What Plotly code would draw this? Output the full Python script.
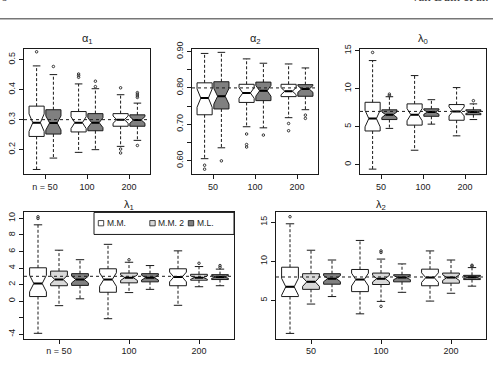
import plotly.graph_objects as go

W, H = 493, 366

# ---------------- data ----------------
group_pos = [1, 2, 3]
top_ticks_left = ["n = 50", "100", "200"]
top_ticks = ["50", "100", "200"]
legend_names = ["M.M.", "M.M. 2", "M.L."]
true_values = [0.3, 0.8, 7, 3, 8]

# each tuple: (lower whisker, q1, median, q3, upper whisker) per sample size 50/100/200
alpha1_MM = [(0.134, 0.244, 0.290, 0.345, 0.479), (0.191, 0.259, 0.290, 0.327, 0.419), (0.211, 0.278, 0.300, 0.320, 0.383)]
alpha1_MM_out = [[0.526], [0.452, 0.447, 0.441], [0.406, 0.202, 0.189]]
alpha1_ML = [(0.172, 0.252, 0.289, 0.333, 0.450), (0.200, 0.263, 0.290, 0.320, 0.403), (0.231, 0.278, 0.299, 0.316, 0.355)]
alpha1_ML_out = [[0.477], [0.428, 0.410], [0.390, 0.385, 0.379, 0.374, 0.214]]

alpha2_MM = [(0.605, 0.726, 0.772, 0.814, 0.895), (0.693, 0.760, 0.786, 0.810, 0.880), (0.718, 0.776, 0.791, 0.810, 0.866)]
alpha2_MM_out = [[0.587, 0.576], [0.673, 0.644, 0.637], [0.702, 0.682]]
alpha2_ML = [(0.635, 0.742, 0.777, 0.817, 0.898), (0.690, 0.765, 0.792, 0.816, 0.868), (0.740, 0.777, 0.797, 0.809, 0.855)]
alpha2_ML_out = [[0.599], [0.670], [0.725, 0.716]]

lambda0_MM = [(-0.58, 4.43, 6.06, 8.20, 13.68), (1.90, 5.20, 6.57, 7.99, 11.71), (3.79, 5.84, 7.00, 7.90, 10.13)]
lambda0_MM_out = [[14.75], [], []]
lambda0_ML = [(4.77, 5.93, 6.57, 7.21, 8.93), (5.33, 6.36, 6.91, 7.34, 8.54), (5.93, 6.57, 6.91, 7.21, 7.99)]
lambda0_ML_out = [[9.27, 9.06], [], [8.41]]

lambda1_MM = [(-3.90, 0.55, 2.13, 4.03, 9.23), (-2.13, 1.07, 2.61, 3.91, 6.87), (-0.51, 1.86, 2.92, 3.91, 6.08)]
lambda1_MM_out = [[10.2, 10.0], [], []]
lambda1_MM2 = [(-0.55, 1.86, 2.61, 3.63, 6.16), (1.03, 2.21, 2.84, 3.39, 4.70), (1.74, 2.53, 2.84, 3.24, 4.18)]
lambda1_MM2_out = [[], [5.0], [4.58]]
lambda1_ML = [(0.28, 1.90, 2.61, 3.32, 5.01), (1.42, 2.33, 2.84, 3.32, 4.30), (1.86, 2.61, 2.92, 3.20, 3.87)]
lambda1_ML_out = [[], [], [4.3, 4.1]]

lambda2_MM = [(0.79, 5.50, 6.75, 9.25, 14.80), (3.29, 6.13, 7.67, 8.96, 12.67), (4.92, 6.88, 7.92, 9.00, 11.33)]
lambda2_MM_out = [[15.7], [], []]
lambda2_MM2 = [(4.54, 6.42, 7.38, 8.42, 11.42), (4.88, 7.04, 7.79, 8.50, 10.29), (5.92, 7.21, 7.92, 8.50, 10.17)]
lambda2_MM2_out = [[], [11.33, 11.13, 4.25], []]
lambda2_ML = [(5.50, 7.08, 7.79, 8.42, 10.17), (6.04, 7.38, 7.92, 8.29, 9.67), (6.83, 7.67, 7.96, 8.21, 9.20)]
lambda2_ML_out = [[], [], [9.5, 9.4]]

NOTCH_N = 30  # notch half-width = 1.58*IQR/sqrt(N)

# ---------------- styling ----------------
FILL = {"M.M.": "#ffffff", "M.M. 2": "#d9d9d9", "M.L.": "#808080"}
INK = "#1a1a1a"
FONT = "Liberation Sans, Arial, sans-serif"


def px_x(p):
    return p / W


def px_y(p):
    return 1 - p / H


panels = [
    dict(title="α<sub>1</sub>", frame=(24, 150, 42, 170), yr=[0.118, 0.535],
         yt=[0.2, 0.3, 0.4, 0.5], ytt=["0.2", "0.3", "0.4", "0.5"], ym=[], xtt=top_ticks_left,
         series=[("M.M.", alpha1_MM, alpha1_MM_out), ("M.L.", alpha1_ML, alpha1_ML_out)],
         offs=[-0.2, 0.2], bw=0.36, ty=32),
    dict(title="α<sub>2</sub>", frame=(192, 318, 42, 170), yr=[0.562, 0.907],
         yt=[0.60, 0.70, 0.80, 0.90], ytt=["0.60", "0.70", "0.80", "0.90"], ym=[0.65, 0.75, 0.85],
         xtt=top_ticks,
         series=[("M.M.", alpha2_MM, alpha2_MM_out), ("M.L.", alpha2_ML, alpha2_ML_out)],
         offs=[-0.2, 0.2], bw=0.36, ty=32),
    dict(title="λ<sub>0</sub>", frame=(360, 486, 42, 170), yr=[-1.26, 15.19],
         yt=[0, 5, 10, 15], ytt=["0", "5", "10", "15"], ym=[], xtt=top_ticks,
         series=[("M.M.", lambda0_MM, lambda0_MM_out), ("M.L.", lambda0_ML, lambda0_ML_out)],
         offs=[-0.2, 0.2], bw=0.36, ty=32),
    dict(title="λ<sub>1</sub>", frame=(24, 234, 209, 338), yr=[-4.54, 10.73],
         yt=[-4, 0, 2, 4, 6, 8, 10], ytt=["-4", "0", "2", "4", "6", "8", "10"], ym=[-2],
         xtt=top_ticks_left,
         series=[("M.M.", lambda1_MM, lambda1_MM_out), ("M.M. 2", lambda1_MM2, lambda1_MM2_out),
                 ("M.L.", lambda1_ML, lambda1_ML_out)],
         offs=[-0.3, 0.0, 0.3], bw=0.24, ty=201),
    dict(title="λ<sub>2</sub>", frame=(276, 486, 209, 338), yr=[0.125, 16.25],
         yt=[5, 10, 15], ytt=["5", "10", "15"], ym=[], xtt=top_ticks,
         series=[("M.M.", lambda2_MM, lambda2_MM_out), ("M.M. 2", lambda2_MM2, lambda2_MM2_out),
                 ("M.L.", lambda2_ML, lambda2_ML_out)],
         offs=[-0.3, 0.0, 0.3], bw=0.24, ty=201),
]

fig = go.Figure()
layout = dict(
    width=W, height=H, margin=dict(l=0, r=0, t=0, b=0),
    paper_bgcolor="white", plot_bgcolor="white", showlegend=False,
    font=dict(family=FONT, size=9, color=INK),
)
shapes = []
annotations = []

for i, pn in enumerate(panels, start=1):
    xa = "x" if i == 1 else f"x{i}"
    ya = "y" if i == 1 else f"y{i}"
    x0, x1, y0, y1 = pn["frame"]
    layout[f"xaxis{'' if i == 1 else i}"] = dict(
        domain=[px_x(x0), px_x(x1)], anchor=ya, range=[0.5, 3.5],
        tickmode="array", tickvals=group_pos, ticktext=pn["xtt"],
        ticks="outside", ticklen=4, tickwidth=1, tickcolor=INK,
        showline=True, mirror=True, linecolor=INK, linewidth=1,
        showgrid=False, zeroline=False, fixedrange=True,
        tickfont=dict(size=9, color=INK, family=FONT),
    )
    yax = dict(
        domain=[px_y(y1), px_y(y0)], anchor=xa, range=pn["yr"],
        tickmode="array", tickvals=pn["yt"], ticktext=pn["ytt"], tickangle=-90,
        ticks="outside", ticklen=4, tickwidth=1, tickcolor=INK,
        showline=True, mirror=True, linecolor=INK, linewidth=1,
        showgrid=False, zeroline=False, fixedrange=True,
        tickfont=dict(size=9, color=INK, family=FONT),
    )
    if pn["ym"]:
        yax["minor"] = dict(tickmode="array", tickvals=pn["ym"], ticks="outside", ticklen=4,
                            tickwidth=1, tickcolor=INK, showgrid=False)
    layout[f"yaxis{'' if i == 1 else i}"] = yax
    bw = pn["bw"]
    cap = bw / 4
    for (name, stats, outs), off in zip(pn["series"], pn["offs"]):
        pos = [g + off for g in group_pos]
        low = [s[0] for s in stats]
        q1 = [s[1] for s in stats]
        med = [s[2] for s in stats]
        q3 = [s[3] for s in stats]
        up = [s[4] for s in stats]
        notch = [1.58 * (b - a) / NOTCH_N ** 0.5 for a, b in zip(q1, q3)]
        fig.add_trace(go.Box(
            x=pos, q1=q1, median=med, q3=q3, lowerfence=q1, upperfence=q3,
            notched=True, notchspan=notch, notchwidth=0.25, width=bw,
            whiskerwidth=0, boxpoints=False, fillcolor=FILL[name],
            line=dict(color=INK, width=1), xaxis=xa, yaxis=ya,
            hoverinfo="skip", showlegend=False,
        ))
        wx, wy = [], []
        cx, cy = [], []
        mx, my = [], []
        for p, l, a, m, b, u in zip(pos, low, q1, med, q3, up):
            wx += [p, p, None, p, p, None]
            wy += [b, u, None, a, l, None]
            cx += [p - cap, p + cap, None, p - cap, p + cap, None]
            cy += [u, u, None, l, l, None]
            mx += [p - bw / 4, p + bw / 4, None]
            my += [m, m, None]
        fig.add_trace(go.Scatter(x=wx, y=wy, mode="lines", xaxis=xa, yaxis=ya,
                                 line=dict(color=INK, width=1, dash="3px,2px"),
                                 hoverinfo="skip", showlegend=False))
        fig.add_trace(go.Scatter(x=cx, y=cy, mode="lines", xaxis=xa, yaxis=ya,
                                 line=dict(color=INK, width=1),
                                 hoverinfo="skip", showlegend=False))
        fig.add_trace(go.Scatter(x=mx, y=my, mode="lines", xaxis=xa, yaxis=ya,
                                 line=dict(color="#000000", width=2),
                                 hoverinfo="skip", showlegend=False))
        ox, oy = [], []
        for p, o in zip(pos, outs):
            ox += [p] * len(o)
            oy += o
        if ox:
            fig.add_trace(go.Scatter(x=ox, y=oy, mode="markers", xaxis=xa, yaxis=ya,
                                     marker=dict(symbol="circle-open", size=2.5, color="#333333",
                                                 line=dict(width=1, color="#333333")),
                                     hoverinfo="skip", showlegend=False))
    shapes.append(dict(type="line", xref=f"{xa} domain", yref=ya, x0=0, x1=1,
                       y0=true_values[i - 1], y1=true_values[i - 1], layer="above",
                       line=dict(color=INK, width=1, dash="3px,3px")))
    annotations.append(dict(text=pn["title"], xref="paper", yref="paper",
                            x=px_x((x0 + x1) / 2), y=px_y(pn["ty"]), xanchor="center", yanchor="middle",
                            showarrow=False, font=dict(size=11, color=INK, family=FONT)))

# legend inside the lambda_1 panel
shapes.append(dict(type="rect", xref="paper", yref="paper", x0=px_x(94), x1=px_x(234),
                   y0=px_y(231.5), y1=px_y(209), fillcolor="white",
                   line=dict(color=INK, width=1), layer="above"))
leg_sq = [101, 152.5, 191]
leg_tx = [105.5, 157, 195.5]
for name, sx, tx in zip(legend_names, leg_sq, leg_tx):
    shapes.append(dict(type="rect", xref="paper", yref="paper", x0=px_x(sx - 2.7), x1=px_x(sx + 2.7),
                       y0=px_y(222.7), y1=px_y(217.3), fillcolor=FILL[name],
                       line=dict(color=INK, width=0.8), layer="above"))
    annotations.append(dict(text=name, xref="paper", yref="paper", x=px_x(tx), y=px_y(220.3),
                            xanchor="left", yanchor="middle", showarrow=False, borderpad=0,
                            font=dict(size=8.5, color=INK, family=FONT)))

# page header rule and clipped running head (cut off at the top edge as in the reference)
shapes.append(dict(type="line", xref="paper", yref="paper", x0=0, x1=1, y0=px_y(11), y1=px_y(11),
                   line=dict(color="#777777", width=1.5)))
annotations.append(dict(text="6", xref="paper", yref="paper", x=px_x(-1), y=px_y(-2.5),
                        xanchor="left", yanchor="bottom", showarrow=False,
                        font=dict(size=13, color="#333333", family="Liberation Serif, serif")))
annotations.append(dict(text="van Duin et al.", xref="paper", yref="paper", x=px_x(410), y=px_y(-2.5),
                        xanchor="left", yanchor="bottom", showarrow=False,
                        font=dict(size=13, color="#333333", family="Liberation Serif, serif")))

layout["shapes"] = shapes
layout["annotations"] = annotations
fig.update_layout(**layout)
fig.write_html("out.html")
